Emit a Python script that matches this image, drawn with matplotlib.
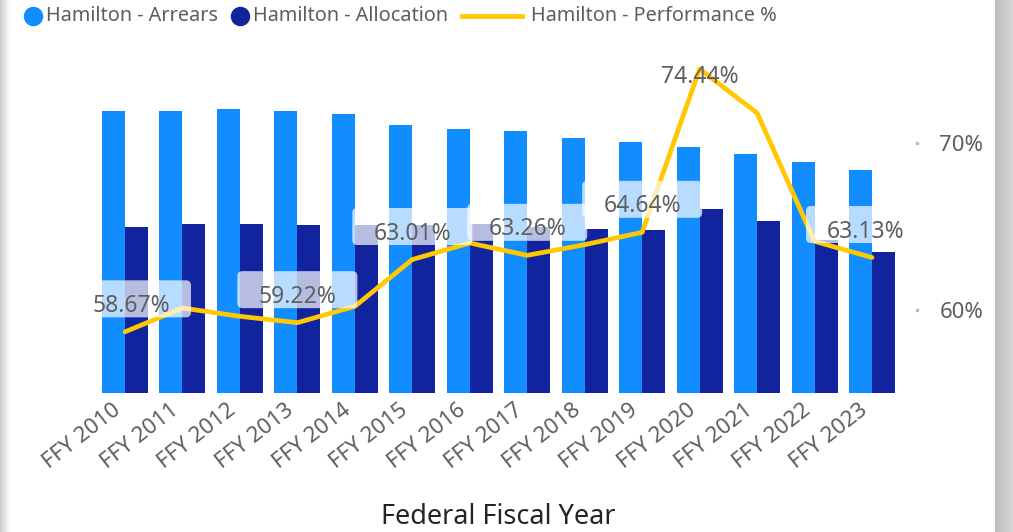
import matplotlib
matplotlib.use('Agg')
import matplotlib.pyplot as plt
import numpy as np
from matplotlib.patches import FancyBboxPatch
from matplotlib.lines import Line2D
from matplotlib.transforms import ScaledTranslation, blended_transform_factory

# ---------------- data ----------------
years = ['FFY 2010', 'FFY 2011', 'FFY 2012', 'FFY 2013', 'FFY 2014', 'FFY 2015', 'FFY 2016',
         'FFY 2017', 'FFY 2018', 'FFY 2019', 'FFY 2020', 'FFY 2021', 'FFY 2022', 'FFY 2023']
arrears = [28.2, 28.2, 28.4, 28.2, 27.9, 26.8, 26.4, 26.2, 25.5, 25.1, 24.6, 23.9, 23.1, 22.3]
allocation = [16.6, 16.9, 16.9, 16.8, 16.8, 16.8, 16.9, 16.6, 16.4, 16.3, 18.4, 17.2, 15.3, 14.1]
performance = [58.67, 60.1, 59.6, 59.22, 60.2, 63.01, 64.0, 63.26, 63.9, 64.64, 74.44, 71.8, 64.1, 63.13]
labeled_years = ['FFY 2010', 'FFY 2013', 'FFY 2015', 'FFY 2017', 'FFY 2019', 'FFY 2020', 'FFY 2023']
right_ticks = [60, 70]

# ---------------- style ----------------
C_ARR = '#118DFF'
C_ALLOC = '#12239E'
C_LINE = '#FFC800'
C_TXT = '#605E5C'
C_LBL = '#5F5F5F'
FONT = 'Noto Sans'
plt.rcParams['font.family'] = [FONT, 'DejaVu Sans']

W, H, DPI = 1013, 532, 100
fig = plt.figure(figsize=(W / DPI, H / DPI), dpi=DPI, facecolor='white')


def px(v):
    return v / DPI


# gray edges of the card
lg = fig.add_axes([0, 0, 11 / W, 1])
lg.imshow(np.linspace(0.80, 1.0, 50)[None, :], cmap='gray', vmin=0, vmax=1, aspect='auto')
lg.axis('off')
rg = fig.add_axes([995 / W, 0, 18 / W, 1])
rg.imshow(np.linspace(0.74, 0.84, 50)[None, :], cmap='gray', vmin=0, vmax=1, aspect='auto')
rg.axis('off')

ax = fig.add_axes([102 / W, (H - 393) / H, (895 - 102) / W, (393 - 55) / H])
ax.set_facecolor('none')
x = np.arange(len(years))
bw = 0.4
ax.bar(x - bw / 2, arrears, bw, color=C_ARR, zorder=2)
ax.bar(x + bw / 2, allocation, bw, color=C_ALLOC, zorder=2)
ax.set_xlim(-0.4, len(years) - 0.6)
ax.set_ylim(0, 33.8)
ax.yaxis.set_visible(False)
for s in ax.spines.values():
    s.set_visible(False)
ax.set_xticks(x)
ax.set_xticklabels(years, rotation=38, ha='right', va='top', rotation_mode='anchor',
                   color=C_TXT, fontsize=16)
ax.tick_params(axis='x', length=0, pad=5)
for lab in ax.get_xticklabels():
    lab.set_transform(lab.get_transform() + ScaledTranslation(px(-13), 0, fig.dpi_scale_trans))

ax2 = ax.twinx()
ax2.set_ylim(55, 75.28)
ax2.plot(x, performance, color=C_LINE, lw=3.4, solid_joinstyle='round',
         solid_capstyle='round', zorder=2)
for s in ax2.spines.values():
    s.set_visible(False)
ax2.set_yticks(right_ticks)
ax2.set_yticklabels([f'{v}%' for v in right_ticks], color=C_TXT, fontsize=16)
ax2.tick_params(axis='y', length=0, pad=32)
# small tick dots
dot_tr = blended_transform_factory(ax2.transAxes, ax2.transData) + \
    ScaledTranslation(px(22), 0, fig.dpi_scale_trans)
ax2.plot([1, 1], right_ticks, 'o', ms=1.6, color='#BBBBBB', transform=dot_tr, clip_on=False)

# data labels
for yr, v in zip(years, performance):
    if yr not in labeled_years:
        continue
    i = years.index(yr)
    base = fig.dpi_scale_trans + ScaledTranslation(i, v, ax2.transData)
    if v > 70:
        ax2.text(0, px(-14), f'{v:.2f}%', transform=base, ha='center', va='baseline',
                 fontsize=16.5, color=C_LBL, zorder=5)
        continue
    dx = 6 if i == 0 else (-6 if i == len(years) - 1 else 0)
    box = FancyBboxPatch((px(dx - 60), px(33 - 18.5)), px(120), px(37),
                         boxstyle='round,pad=0,rounding_size=0.05',
                         transform=base, facecolor='white', edgecolor='none',
                         alpha=0.7, zorder=4)
    ax2.add_artist(box)
    box.set_clip_path(ax2.patch)
    ax2.text(px(dx), px(20), f'{v:.2f}%', transform=base, ha='center', va='baseline',
             fontsize=16.5, color=C_LBL, zorder=5)

# axis title
fig.text(498.5 / W, (H - 517) / H, 'Federal Fiscal Year', ha='center', va='center',
         fontsize=19.5, color='#252423', fontweight='medium')

# legend (manual)
ly = (H - 16) / H
fig.add_artist(Line2D([33 / W], [ly], marker='o', ms=13, color=C_ARR, lw=0))
fig.text(46 / W, ly, 'Hamilton - Arrears', ha='left', va='center', fontsize=14.3, color=C_TXT)
fig.add_artist(Line2D([240 / W], [ly], marker='o', ms=13, color=C_ALLOC, lw=0))
fig.text(253 / W, ly, 'Hamilton - Allocation', ha='left', va='center', fontsize=14.3, color=C_TXT)
fig.add_artist(Line2D([462 / W, 522 / W], [ly, ly], color=C_LINE, lw=3.4))
fig.text(531 / W, ly, 'Hamilton - Performance %', ha='left', va='center', fontsize=14.3, color=C_TXT)

fig.savefig('out.png', dpi=DPI, facecolor='white')
